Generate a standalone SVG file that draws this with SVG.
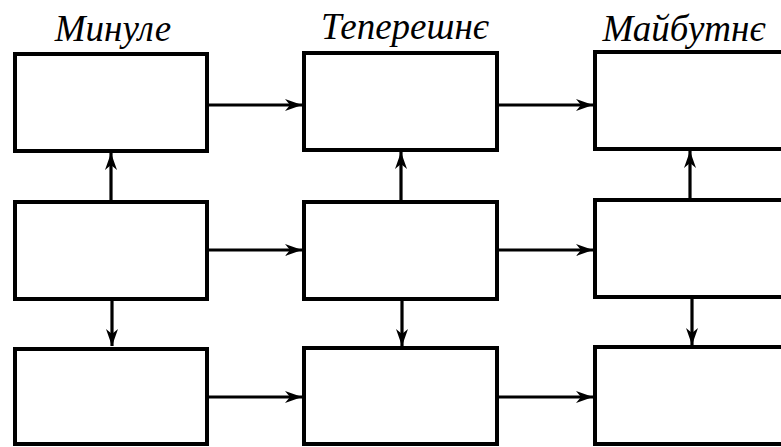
<svg xmlns="http://www.w3.org/2000/svg" width="781" height="447" viewBox="0 0 781 447">
<style>
.box{fill:#fff;stroke:#000;stroke-width:4}
.conn{fill:none;stroke:#000;stroke-width:3.2;marker-end:url(#arr)}
.title{font-family:"Liberation Serif","Times New Roman",serif;font-style:italic;font-size:37px;fill:#000;text-anchor:middle}
</style>
<defs>
<marker id="arr" markerUnits="userSpaceOnUse" markerWidth="18" markerHeight="14" refX="17" refY="7" orient="auto" viewBox="0 0 18 14">
<path d="M0,1 L17,7 L0,13 L5,7 Z" fill="#000"/>
</marker>
</defs>
<rect width="781" height="447" fill="#fff"/>
<g id="titles">
<text class="title" x="113" y="41">Минуле</text>
<text class="title" x="405" y="39">Теперешнє</text>
<text class="title" x="684" y="41">Майбутнє</text>
</g>
<g id="connectors">
<path class="conn" d="M207,105 L302,105"/>
<path class="conn" d="M497,105 L593,105"/>
<path class="conn" d="M207,250 L302,250"/>
<path class="conn" d="M497,250 L593,250"/>
<path class="conn" d="M207,397 L302,397"/>
<path class="conn" d="M497,397 L593,397"/>
<path class="conn" d="M111,201 L111,153"/>
<path class="conn" d="M401,201 L401,152"/>
<path class="conn" d="M690,199 L690,151"/>
<path class="conn" d="M112,299 L112,346"/>
<path class="conn" d="M402,299 L402,346"/>
<path class="conn" d="M692,297 L692,345"/>
</g>
<g id="n11"><rect class="box" x="15" y="54" width="192" height="97"/></g>
<g id="n21"><rect class="box" x="304" y="53" width="193" height="97"/></g>
<g id="n31"><rect class="box" x="595" y="52" width="210" height="97"/></g>
<g id="n12"><rect class="box" x="15" y="202" width="192" height="97"/></g>
<g id="n22"><rect class="box" x="304" y="202" width="193" height="97"/></g>
<g id="n32"><rect class="box" x="595" y="200" width="210" height="97"/></g>
<g id="n13"><rect class="box" x="15" y="349" width="192" height="95"/></g>
<g id="n23"><rect class="box" x="304" y="348" width="193" height="96"/></g>
<g id="n33"><rect class="box" x="595" y="347" width="210" height="97"/></g>
</svg>
